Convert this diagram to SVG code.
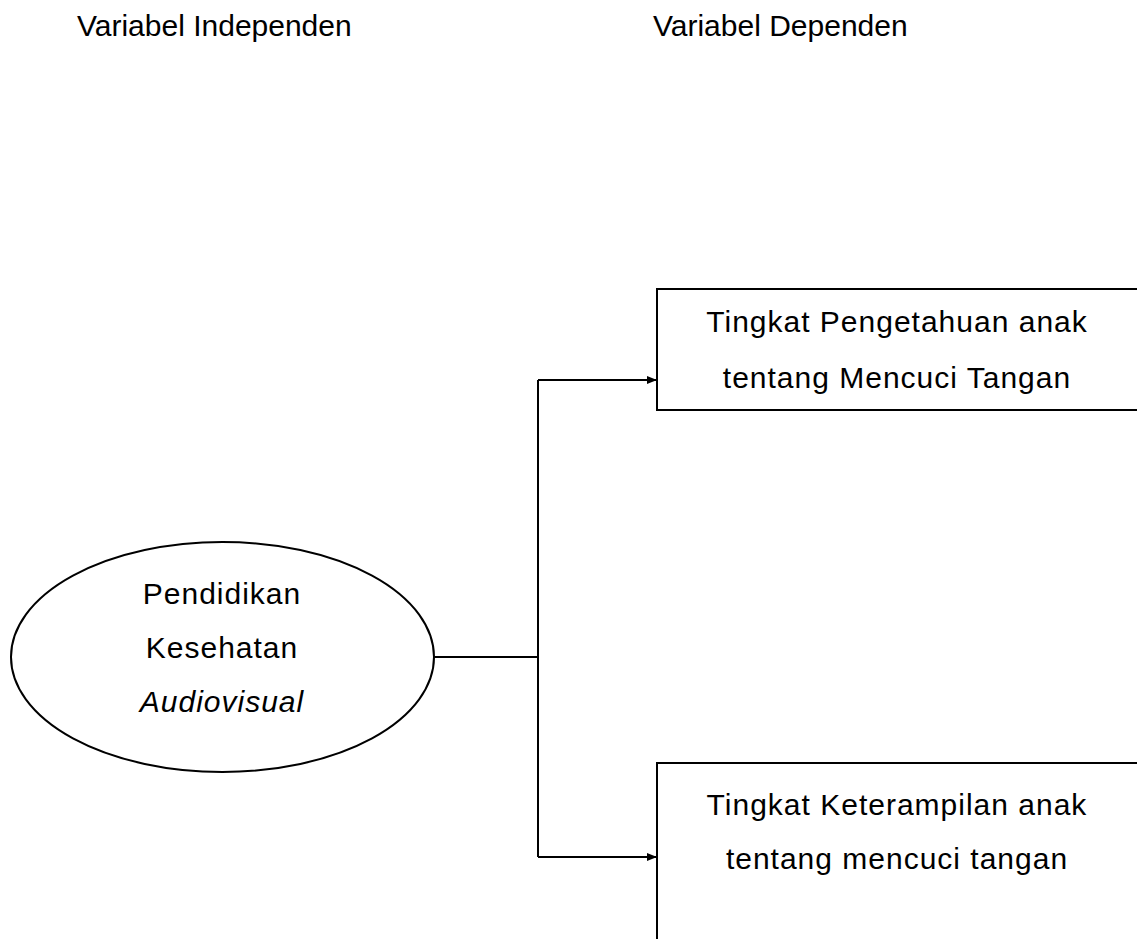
<svg xmlns="http://www.w3.org/2000/svg" width="1137" height="939" viewBox="0 0 1137 939">
<style>
text{font-family:"Liberation Sans",Arial,sans-serif;font-size:30px;fill:#000}
.c{text-anchor:middle}
.bt{letter-spacing:1px}
.shape{fill:#fff;stroke:#000;stroke-width:2}
.ln{fill:none;stroke:#000;stroke-width:2}
</style>
<defs>
<marker id="ah" markerWidth="10" markerHeight="8" refX="9" refY="4" orient="auto" markerUnits="userSpaceOnUse">
<path d="M0,0 L10,4 L0,8 Z" fill="#000"/>
</marker>
</defs>
<rect width="1137" height="939" fill="#fff"/>
<g id="titles">
<text x="77" y="36">Variabel Independen</text>
<text x="653" y="36">Variabel Dependen</text>
</g>
<g id="connectors">
<path class="ln" d="M434,657 H538"/>
<path class="ln" d="M538,380 V857"/>
<path class="ln" d="M538,380 H656" marker-end="url(#ah)"/>
<path class="ln" d="M538,857 H656" marker-end="url(#ah)"/>
</g>
<g id="node-independen">
<ellipse class="shape" cx="222.5" cy="657" rx="211.5" ry="115" stroke-width="1.6"/>
<text class="c bt" x="222" y="604">Pendidikan</text>
<text class="c bt" x="222" y="658">Kesehatan</text>
<text class="c bt" x="222" y="712" font-style="italic">Audiovisual</text>
</g>
<g id="node-pengetahuan">
<rect class="shape" x="657" y="289" width="490" height="121"/>
<text class="c bt" x="897" y="332">Tingkat Pengetahuan anak</text>
<text class="c bt" x="897" y="388">tentang Mencuci Tangan</text>
</g>
<g id="node-keterampilan">
<rect class="shape" x="657" y="763" width="490" height="200"/>
<text class="c bt" x="897" y="815">Tingkat Keterampilan anak</text>
<text class="c bt" x="897" y="869">tentang mencuci tangan</text>
</g>
</svg>
